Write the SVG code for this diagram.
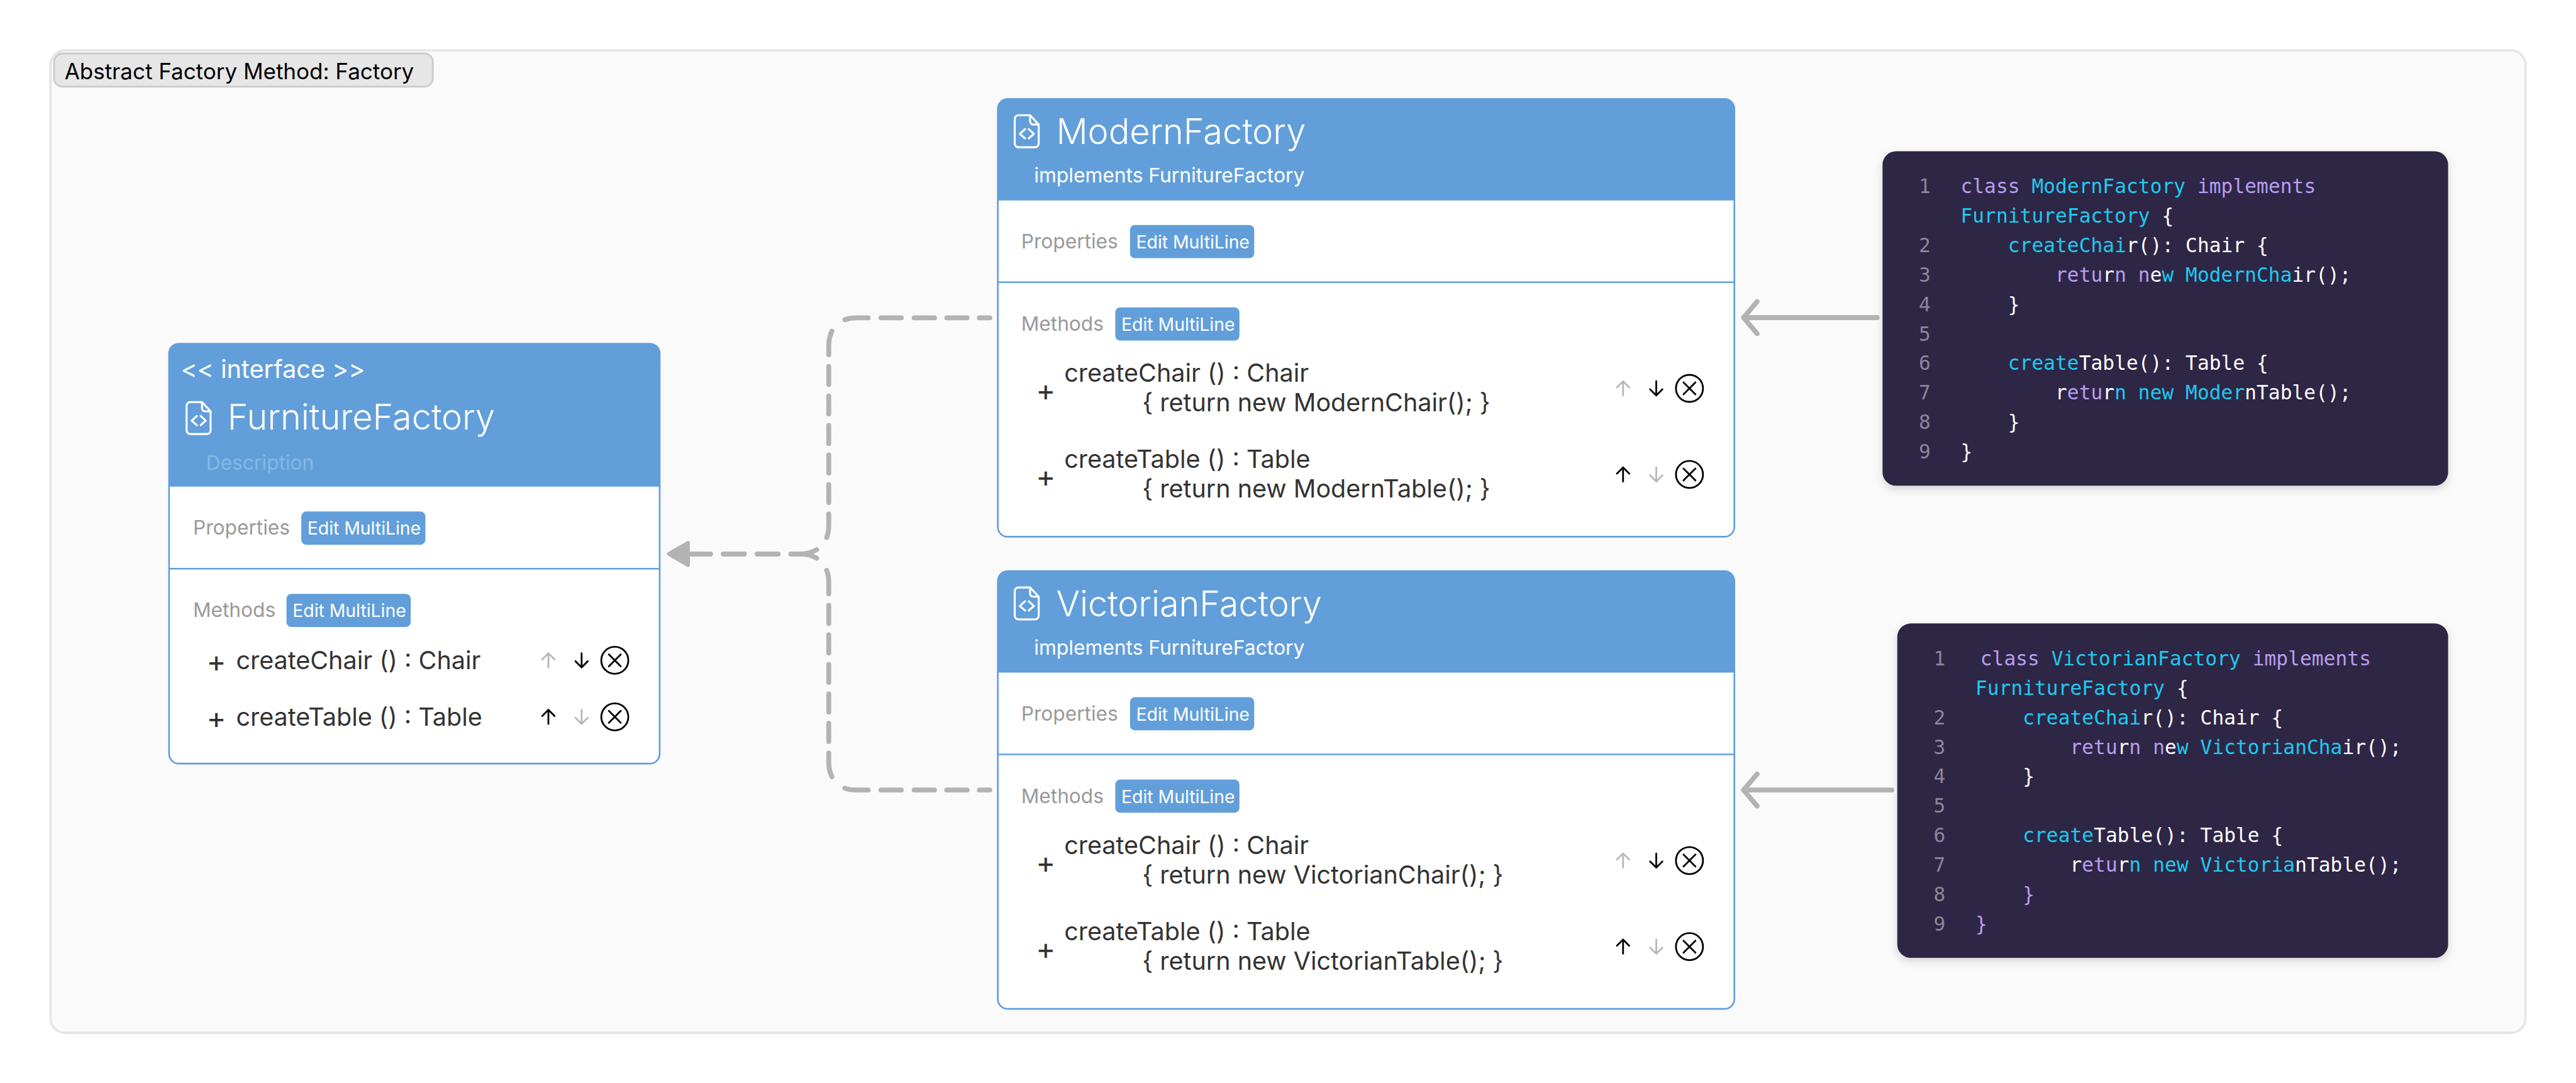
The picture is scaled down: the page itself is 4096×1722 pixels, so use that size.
<svg xmlns="http://www.w3.org/2000/svg" width="4096" height="1722" viewBox="0 0 4096 1722">
<style>
text{font-family:Inter,"Noto Sans","Liberation Sans",sans-serif;white-space:pre}
.frame{fill:#fafafa;stroke:#e6e6e6;stroke-width:4}
.tab{fill:#e6e6e6;stroke:#ccc;stroke-width:3}
.tabt{font-size:35.8px;fill:#000}
.body{fill:#fff;stroke:#629fda;stroke-width:2.7}
.head{fill:#629fda}
.div{stroke:#629fda;stroke-width:2.7}
.title{font-size:57px;font-weight:300;fill:#fff}
.stereo{font-size:40.5px;font-weight:400;fill:#fff}
.desc{font-size:32.5px;fill:#fff}
.faint{fill-opacity:.25}
.sec{font-size:32.4px;fill:#999}
.btn{fill:#629fda}
.btnt{font-size:29px;fill:#fff}
.m{font-size:40.4px;fill:#333}
.plus{font-size:48px;fill:#333}
.icon{fill:none;stroke:#fff;stroke-width:3.2;stroke-linejoin:round;stroke-linecap:round}
.ctl{fill:none;stroke:#000;stroke-width:2.9;stroke-linecap:round;stroke-linejoin:round}
.off{stroke:#b8b8b8}
.code{fill:#2e2845;filter:url(#sh)}
.code-t text{font-family:"DejaVu Sans Mono","Liberation Mono",monospace;font-size:32px}
.code-t{fill:#fff}
.n{fill:#8a8698}
.p{fill:#b79df0}
.c{fill:#1ccbf0}
.dash{fill:none;stroke:#b3b3b3;stroke-width:8;stroke-linecap:round;stroke-dasharray:17 20 33 20 33 21 33 21 38 29 39 19 29.4 18.6 29.4 18.6 29.4 18.6 29.4 18.6 29.4 18.6 38.7 26 43 21 34 21 34 21 32 200;marker-end:url(#tri)}
.solid{fill:none;stroke:#b3b3b3;stroke-width:8;stroke-linecap:round;marker-end:url(#open)}
</style>
<defs>
<filter id="sh" x="-5%" y="-5%" width="110%" height="110%"><feDropShadow dx="0" dy="6" stdDeviation="7" flood-color="#000" flood-opacity=".14"/></filter>
<marker id="tri" markerUnits="userSpaceOnUse" markerWidth="60" markerHeight="60" refX="0" refY="30" viewBox="-10 0 60 60" orient="auto"><polygon points="33,30 2,12 2,48" fill="#b3b3b3" stroke="#b3b3b3" stroke-width="6" stroke-linejoin="round"/></marker>
<marker id="open" markerUnits="userSpaceOnUse" markerWidth="80" markerHeight="80" refX="0" refY="40" viewBox="-50 0 80 80" orient="auto"><path d="M-22,14 L0,40 L-22,66" fill="none" stroke="#b3b3b3" stroke-width="8" stroke-linecap="round" stroke-linejoin="round"/></marker>
<g id="ic"><path d="M6,0H25L39,15V46a6,6 0 0 1-6,6H6a6,6 0 0 1-6-6V6a6,6 0 0 1 6-6Z"/><path d="M25,0V10a5,5 0 0 0 5,5H39"/><path d="M16.8,22.5L8.2,30.2L16.8,37.5M22.8,22.5L31.2,30.2L22.8,37.5"/></g>
<path id="up" d="M0,-11.5V11.5M-10,-1.5L0,-11.5L10,-1.5"/>
<path id="dn" d="M0,-11.5V11.5M-10,1.5L0,11.5L10,1.5"/>
<g id="xx"><circle r="22"/><path d="M-9.7,-9.7L9.7,9.7M9.7,-9.7L-9.7,9.7"/></g>
</defs>
<rect width="4096" height="1722" fill="#fff"/>
<g transform="scale(0.97757)">
<g id="frame">
<rect class="frame" x="82" y="82" width="4026" height="1598" rx="24"/>
<rect class="tab" x="88" y="87" width="616" height="54" rx="14"/>
<text class="tabt" x="105" y="129">Abstract Factory Method: Factory</text>
</g>
<g id="connectors">
<path class="dash" d="M1610,517H1392C1364,517 1348,535 1348,563V855C1348,883 1330,901 1302,901H1121"/>
<path class="dash" d="M1610,1285H1392C1364,1285 1348,1267 1348,1239V947C1348,919 1330,901 1302,901H1121"/>
<path class="solid" d="M3053,516.6H2836"/>
<path class="solid" d="M3077,1285H2836"/>
</g>
<g id="FurnitureFactory">
<rect class="body" x="275" y="559" width="798" height="683" rx="16"/>
<path class="head" d="M275,791.6V575a16,16 0 0 1 16-16H1057a16,16 0 0 1 16,16V791.6Z"/>
<line class="div" x1="275" y1="925" x2="1073" y2="925"/>
<text class="stereo" x="294" y="615">&lt;&lt; interface &gt;&gt;</text>
<use href="#ic" class="icon" x="303.5" y="654"/>
<text class="title" x="370" y="699">FurnitureFactory</text>
<text class="desc faint" x="335" y="764">Description</text>
<text class="sec" x="314" y="870">Properties</text>
<rect class="btn" x="490" y="832" width="202" height="54" rx="8"/>
<text class="btnt" x="500" y="870">Edit MultiLine</text>
<text class="sec" x="314" y="1004">Methods</text>
<rect class="btn" x="466" y="966" width="202" height="54" rx="8"/>
<text class="btnt" x="476" y="1004">Edit MultiLine</text>
<text class="plus" x="336" y="1092">+</text>
<text class="m" x="384" y="1088">createChair () : Chair</text>
<use href="#up" class="ctl off" x="892" y="1074"/><use href="#dn" class="ctl" x="946" y="1074"/><use href="#xx" class="ctl" x="1000" y="1074"/>
<text class="plus" x="336" y="1185">+</text>
<text class="m" x="384" y="1180">createTable () : Table</text>
<use href="#up" class="ctl" x="892" y="1166"/><use href="#dn" class="ctl off" x="946" y="1166"/><use href="#xx" class="ctl" x="1000" y="1166"/>
</g>
<g id="ModernFactory">
<rect class="body" x="1623" y="161" width="1198" height="712" rx="16"/>
<path class="head" d="M1623,326V177a16,16 0 0 1 16-16H2805a16,16 0 0 1 16,16V326Z"/>
<line class="div" x1="1623" y1="459" x2="2821" y2="459"/>
<use href="#ic" class="icon" x="1650.5" y="187.5"/>
<text class="title" x="1718" y="234">ModernFactory</text>
<text class="desc" x="1682" y="297">implements FurnitureFactory</text>
<text class="sec" x="1661" y="404">Properties</text>
<rect class="btn" x="1838" y="366" width="202" height="54" rx="8"/>
<text class="btnt" x="1848" y="404">Edit MultiLine</text>
<text class="sec" x="1661" y="538">Methods</text>
<rect class="btn" x="1814" y="500" width="202" height="54" rx="8"/>
<text class="btnt" x="1824" y="538">Edit MultiLine</text>
<text class="plus" x="1685" y="652">+</text>
<text class="m" x="1731" y="621">createChair () : Chair</text>
<text class="m" x="1858" y="669">{ return new ModernChair(); }</text>
<use href="#up" class="ctl off" x="2640" y="631.7"/><use href="#dn" class="ctl" x="2694" y="631.7"/><use href="#xx" class="ctl" x="2748" y="631.7"/>
<text class="plus" x="1685" y="792">+</text>
<text class="m" x="1731" y="761">createTable () : Table</text>
<text class="m" x="1858" y="809">{ return new ModernTable(); }</text>
<use href="#up" class="ctl" x="2640" y="771.7"/><use href="#dn" class="ctl off" x="2694" y="771.7"/><use href="#xx" class="ctl" x="2748" y="771.7"/>
</g>
<g id="VictorianFactory">
<rect class="body" x="1623" y="929" width="1198" height="712" rx="16"/>
<path class="head" d="M1623,1094V945a16,16 0 0 1 16-16H2805a16,16 0 0 1 16,16V1094Z"/>
<line class="div" x1="1623" y1="1227" x2="2821" y2="1227"/>
<use href="#ic" class="icon" x="1650.5" y="955.5"/>
<text class="title" x="1718" y="1002">VictorianFactory</text>
<text class="desc" x="1682" y="1065">implements FurnitureFactory</text>
<text class="sec" x="1661" y="1172">Properties</text>
<rect class="btn" x="1838" y="1134" width="202" height="54" rx="8"/>
<text class="btnt" x="1848" y="1172">Edit MultiLine</text>
<text class="sec" x="1661" y="1306">Methods</text>
<rect class="btn" x="1814" y="1268" width="202" height="54" rx="8"/>
<text class="btnt" x="1824" y="1306">Edit MultiLine</text>
<text class="plus" x="1685" y="1420">+</text>
<text class="m" x="1731" y="1389">createChair () : Chair</text>
<text class="m" x="1858" y="1437">{ return new VictorianChair(); }</text>
<use href="#up" class="ctl off" x="2640" y="1399.7"/><use href="#dn" class="ctl" x="2694" y="1399.7"/><use href="#xx" class="ctl" x="2748" y="1399.7"/>
<text class="plus" x="1685" y="1560">+</text>
<text class="m" x="1731" y="1529">createTable () : Table</text>
<text class="m" x="1858" y="1577">{ return new VictorianTable(); }</text>
<use href="#up" class="ctl" x="2640" y="1539.7"/><use href="#dn" class="ctl off" x="2694" y="1539.7"/><use href="#xx" class="ctl" x="2748" y="1539.7"/>
</g>
<g id="ModernCode">
<rect class="code" x="3062" y="246" width="920" height="544" rx="22"/>
<g class="code-t">
<text class="n" x="3121" y="314">1</text><text class="n" x="3121" y="410">2</text><text class="n" x="3121" y="458">3</text><text class="n" x="3121" y="506">4</text><text class="n" x="3121" y="554">5</text><text class="n" x="3121" y="602">6</text><text class="n" x="3121" y="650">7</text><text class="n" x="3121" y="698">8</text><text class="n" x="3121" y="746">9</text>
<text x="3189" y="314"><tspan class="p">class</tspan> <tspan class="c">ModernFactory</tspan> <tspan class="p">implements</tspan></text>
<text x="3189" y="362"><tspan class="c">FurnitureFactory</tspan> {</text>
<text x="3266" y="410"><tspan class="c">createChai</tspan>r(): Chair {</text>
<text x="3343" y="458"><tspan class="p">retu</tspan>r<tspan class="p">n n</tspan>e<tspan class="c">w ModernCha</tspan>ir();</text>
<text x="3266" y="506">}</text>
<text x="3266" y="602"><tspan class="c">create</tspan>Table(): Table {</text>
<text x="3343" y="650">r<tspan class="p">etu</tspan>r<tspan class="c">n new Moder</tspan>nTable();</text>
<text x="3266" y="698">}</text>
<text x="3189" y="746">}</text>
</g>
</g>
<g id="VictorianCode">
<rect class="code" x="3086" y="1014" width="896" height="544" rx="22"/>
<g class="code-t">
<text class="n" x="3145" y="1082">1</text><text class="n" x="3145" y="1178">2</text><text class="n" x="3145" y="1226">3</text><text class="n" x="3145" y="1274">4</text><text class="n" x="3145" y="1322">5</text><text class="n" x="3145" y="1370">6</text><text class="n" x="3145" y="1418">7</text><text class="n" x="3145" y="1466">8</text><text class="n" x="3145" y="1514">9</text>
<text x="3221" y="1082"><tspan class="p">class</tspan> <tspan class="c">VictorianFactory</tspan> <tspan class="p">implements</tspan></text>
<text x="3213" y="1130"><tspan class="c">FurnitureFactory</tspan> {</text>
<text x="3290" y="1178"><tspan class="c">createChai</tspan>r(): Chair {</text>
<text x="3367" y="1226"><tspan class="p">retu</tspan>r<tspan class="p">n n</tspan>e<tspan class="c">w VictorianCha</tspan>ir();</text>
<text x="3290" y="1274">}</text>
<text x="3290" y="1370"><tspan class="c">create</tspan>Table(): Table {</text>
<text x="3367" y="1418">r<tspan class="p">etu</tspan>r<tspan class="c">n new Victoria</tspan>nTable();</text>
<text class="p" x="3290" y="1466">}</text>
<text class="p" x="3213" y="1514">}</text>
</g>
</g>
</g>
</svg>
